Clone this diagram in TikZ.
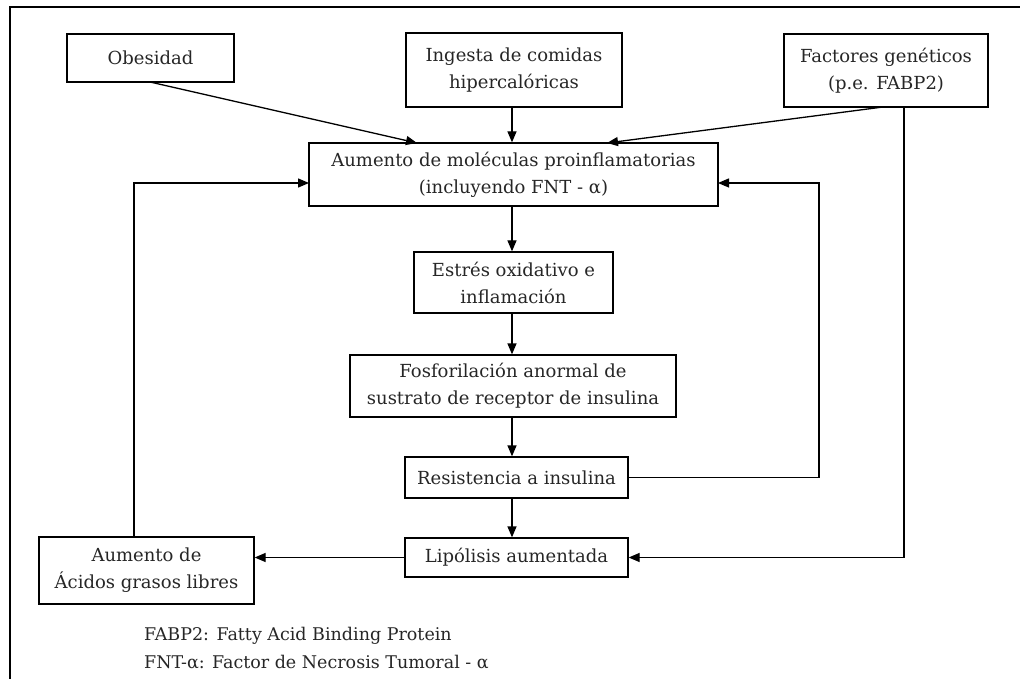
\documentclass[tikz,border=0pt]{standalone}
\usepackage{fontspec}
\setmainfont{DejaVu Serif}
\usetikzlibrary{arrows.meta,calc}
\begin{document}
\begin{tikzpicture}[x=1pt,y=-1pt,
  box/.style={draw=black,line width=1.3pt,align=center,inner sep=0pt,
    font=\fontsize{18}{27}\selectfont,text=black!85},
  arr/.style={line width=1.3pt,-{Triangle[length=11pt,width=9pt]}},
  ln/.style={line width=1.3pt},
  note/.style={anchor=west,inner sep=0pt,font=\fontsize{17.5}{20}\selectfont,text=black!85}]
\useasboundingbox (0,0) rectangle (1020,679);
% frame
\draw[line width=1.2pt] (10,679) -- (10,7) -- (1020,7);
% nodes
\node[box,minimum width=167pt,minimum height=48pt] (obes) at (150.5,58) {Obesidad};
\node[box,minimum width=216pt,minimum height=74pt] (ing) at (514,70) {Ingesta de comidas\\hipercalóricas};
\node[box,minimum width=204pt,minimum height=73pt] (fac) at (886,70.5) {Factores genéticos\\(p.e. FABP2)};
\node[box,minimum width=409pt,minimum height=63pt] (aum) at (513.5,174.5) {Aumento de moléculas proinflamatorias\\(incluyendo FNT - α)};
\node[box,minimum width=199pt,minimum height=61pt] (est) at (513.5,282.5) {Estrés oxidativo e\\inflamación};
\node[box,minimum width=326pt,minimum height=62pt] (fos) at (513,386) {Fosforilación anormal de\\sustrato de receptor de insulina};
\node[box,minimum width=223pt,minimum height=41pt] (res) at (516.5,477.5) {Resistencia a insulina};
\node[box,minimum width=223pt,minimum height=39pt] (lip) at (516.5,557.5) {Lipólisis aumentada};
\node[box,minimum width=215pt,minimum height=67pt] (ac) at (146.5,570.5) {Aumento de\\Ácidos grasos libres};
% coordinates
\coordinate (obesout) at (150,82);
\coordinate (aumin1) at (417,143);
\coordinate (facout) at (883,107);
\coordinate (aumin3) at (607,143);
\coordinate (aumL) at (309,183);
\coordinate (aumR) at (718,183);
\coordinate (loopR) at (819,183);
\coordinate (facdown) at (904,107);
% connectors
\draw[arr] (obesout) -- (aumin1);
\draw[arr] (ing.south -| 512,0) -- (aum.north -| 512,0);
\draw[arr] (facout) -- (aumin3);
\draw[arr] (aum.south -| 512,0) -- (est.north -| 512,0);
\draw[arr] (est.south -| 512,0) -- (fos.north -| 512,0);
\draw[arr] (fos.south -| 512,0) -- (res.north -| 512,0);
\draw[arr] (res.south -| 512,0) -- (lip.north -| 512,0);
\draw[arr] (res.east) -| (loopR) -- (aumR);
\draw[arr] (facdown) |- (lip.east);
\draw[arr] (lip.west) -- (ac.east |- lip.west);
\draw[arr] (ac.north -| 134,0) -- (134,183) -- (aumL);
% notes
\node[note] (n1) at (144,636) {FABP2: Fatty Acid Binding Protein};
\node[note] (n2) at (144,662) {FNT-α: Factor de Necrosis Tumoral - α};
\end{tikzpicture}
\end{document}
